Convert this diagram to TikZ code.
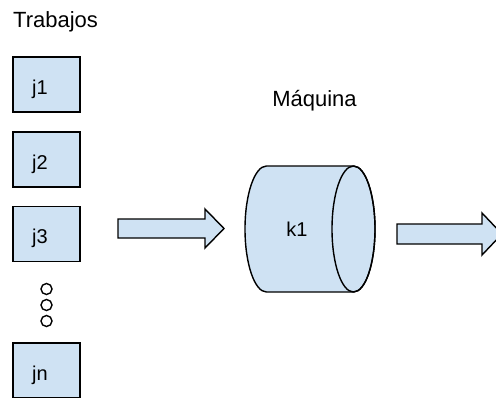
\documentclass[tikz,border=0pt]{standalone}
\usepackage{fontspec}
\setmainfont{Liberation Sans}
\usepackage{xcolor}
\usetikzlibrary{positioning, calc}

\definecolor{celeste}{HTML}{CFE2F3}

\tikzset{
  caja/.style={draw=black, fill=celeste, line width=1.4pt, minimum width=67pt, minimum height=55pt, inner sep=0pt},
  flecha/.style={draw=black, fill=celeste, line width=1.4pt, line join=miter},
  titulo/.style={font=\fontsize{22}{26}\selectfont, inner sep=0pt},
  etiqueta/.style={font=\fontsize{20}{24}\selectfont, inner sep=0pt, anchor=base}
}

\begin{document}
\begin{tikzpicture}[x=1pt, y=-1pt]
          \clip (0,0) rectangle (496,397);

          \node[titulo, anchor=base west] (trabajos) at (13,27) {Trabajos};
          \node[titulo, anchor=base] (maquina) at (314.5,106) {Máquina};

          \foreach \j/\y in {1/84.5, 2/159.5, 3/234, n/370.5} {
            \node[caja] (j\j) at (46.5,\y) {};
            \node[etiqueta] (t\j) at ([xshift=-6.5pt, yshift=-9.5pt]j\j.center) {j\j};
          }

          \foreach \y in {289, 305, 321}
            \draw[line width=1.4pt] (46.5,\y) circle (5.5pt);

          \draw[flecha] (118,219) -- (205,219) -- (205,209) -- (224,228.5)
            -- (205,248) -- (205,238) -- (118,238) -- cycle;

          \draw[fill=celeste, line width=1.4pt] (266.5,166) arc[start angle=90, end angle=270, x radius=21.5pt, y radius=63pt]
            -- (353.5,292) arc[start angle=-90, end angle=90, x radius=21.5pt, y radius=63pt] -- cycle;
          \draw[line width=1.4pt] (353.5,229) ellipse[x radius=21.5pt, y radius=63pt];
          \node[etiqueta] (k1) at (297,236) {k1};

          \draw[flecha] (397,224) -- (482,224) -- (482,213) -- (502,234)
            -- (482,255) -- (482,244) -- (397,244) -- cycle;
        \end{tikzpicture}
\end{document}
